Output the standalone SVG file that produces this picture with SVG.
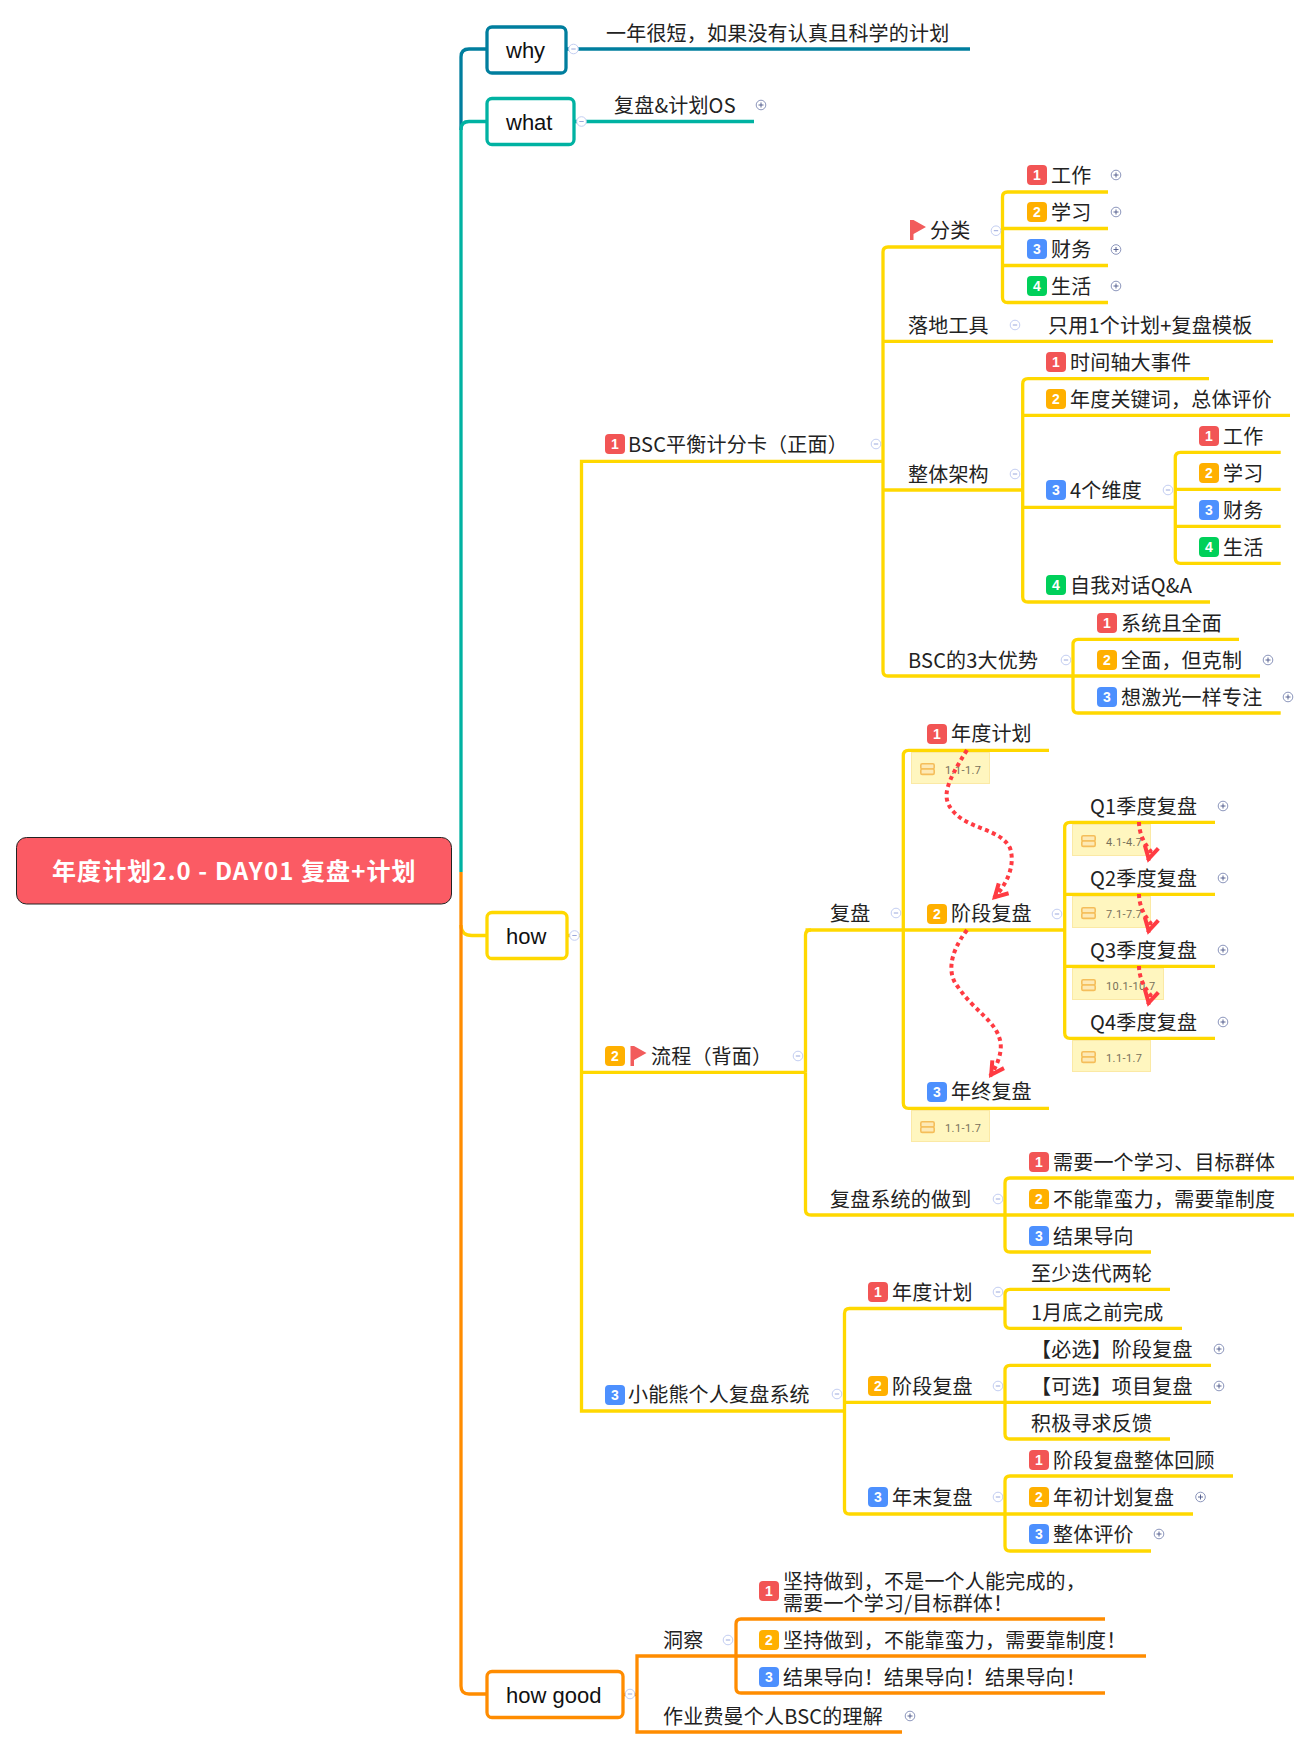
<svg xmlns="http://www.w3.org/2000/svg" width="1312" height="1749" viewBox="0 0 1312 1749">
<style>
text{font-family:"Noto Sans CJK SC","Noto Sans",sans-serif;fill:#222}
.t{font-size:20px;letter-spacing:.2px}
.b{font-family:"Liberation Sans",sans-serif;font-size:22px;fill:#111}
.root{font-size:24px;font-weight:700;fill:#fff;letter-spacing:1.1px}
.mn{font-family:"Liberation Sans",sans-serif;font-size:14px;font-weight:700;fill:#fff;text-anchor:middle}
.nt{font-family:"Roboto",sans-serif;font-size:11px;fill:#77705a;letter-spacing:.4px}
.c{fill:none;stroke-width:3.3}
.y{stroke:#FFD800}.o{stroke:#FF8C00}.tl{stroke:#00B2A2}.bl{stroke:#007E9E}
.box{fill:#fff;stroke-width:3.3}
.m1{fill:#F25555}.m2{fill:#FFB000}.m3{fill:#4D90FE}.m4{fill:#00D05A}
.note{fill:#FFF6BF;stroke:#FBE9A5;stroke-width:1}
.rel{fill:none;stroke:#FF3B42;stroke-width:4;stroke-dasharray:4 3.5}
</style>
<defs>
<g id="minus"><circle r="4.8" fill="#fff" stroke="#C3CEF2" stroke-width="1"/><path d="M-2.2 0H2.2" stroke="#9AA8DC" stroke-width="1"/></g>
<g id="plus"><circle r="4.8" fill="#fff" stroke="#7E89B3" stroke-width=".9"/><path d="M-2.5 0H2.5M0 -2.5V2.500" stroke="#4A5688" stroke-width=".9"/></g>
<g id="flag"><path d="M0 0H3.500V20H0Z M3.500 0L16 7L3.500 14Z" fill="#F25C5C"/></g>
<g id="ni"><rect x="0.800" y="0.800" width="13.400" height="5.200" rx="1.400" fill="#FDE9B5" stroke="#F5BE5A" stroke-width="1.600"/><rect x="0.800" y="6" width="13.400" height="5.400" rx="1.400" fill="#FDE9B5" stroke="#F5BE5A" stroke-width="1.600"/></g>
<marker id="arr" markerUnits="userSpaceOnUse" markerWidth="26" markerHeight="24" viewBox="0 0 26 24" refX="21" refY="12" orient="auto"><path d="M4.500 5L17 12L4.500 19" fill="none" stroke="#FF3B42" stroke-width="4"/></marker>
</defs>
<g id="connectors">
<path class="c bl" d="M461 130V57Q461 49 469 49H486"/>
<path class="c tl" d="M461 872V129.500Q461 121.500 469 121.500H486"/>
<path class="c y" d="M461 925Q461 935.500 472 935.500H486"/>
<path class="c o" d="M461 872V1686Q461 1694 469 1694H486"/>
<path class="c bl" d="M566 49H970"/>
<path class="c tl" d="M574 121.500H754"/>
<path class="c y" d="M567 935.500H581.500"/>
<path class="c y" d="M883 461.300H581.500V1411H845"/>
<path class="c y" d="M581.500 1072.300H805.500"/>
<path class="c y" d="M1073 676H888Q883 676 883 671V252Q883 247 888 247H1002"/>
<path class="c y" d="M883 341.300H1273"/>
<path class="c y" d="M883 490H1022.700"/>
<path class="c y" d="M1108 192H1007.500Q1002.500 192 1002.500 197V297.500Q1002.500 302.500 1007.500 302.500H1108"/>
<path class="c y" d="M1002.500 228.500H1108M1002.500 265.500H1108"/>
<path class="c y" d="M1209 378.700H1028Q1022.700 378.700 1022.700 384V597Q1022.700 602 1028 602H1210"/>
<path class="c y" d="M1022.700 415.300H1290M1022.700 507.300H1175.300"/>
<path class="c y" d="M1280.700 452.300H1180.500Q1175.300 452.300 1175.300 457.500V558Q1175.300 563.300 1180.500 563.300H1280.700"/>
<path class="c y" d="M1175.300 489.300H1280.700M1175.300 526.300H1280.700"/>
<path class="c y" d="M1239 639.300H1078Q1073 639.300 1073 644.500V708Q1073 713 1078 713H1280.700"/>
<path class="c y" d="M1073 676H1260"/>
<path class="c y" d="M1049 750.300H908.500Q903.300 750.300 903.300 755.500V1103Q903.300 1108.300 908.500 1108.300H1049"/>
<path class="c y" d="M805.500 930H1064.700"/>
<path class="c y" d="M1215 822.300H1070Q1064.700 822.300 1064.700 827.500V1033Q1064.700 1038.300 1070 1038.300H1215"/>
<path class="c y" d="M1064.700 894.300H1215M1064.700 966.300H1215"/>
<path class="c y" d="M805.500 1072.300V935Q805.500 930 811 930"/>
<path class="c y" d="M805.500 1072.300V1210Q805.500 1215 811 1215H1005"/>
<path class="c y" d="M1294 1178H1010Q1005 1178 1005 1183V1247Q1005 1252 1010 1252H1151"/>
<path class="c y" d="M1005 1215H1294"/>
<path class="c y" d="M844.500 1411V1313.500Q844.500 1308.500 849.500 1308.500H1005"/>
<path class="c y" d="M844.500 1411V1509Q844.500 1514 849.500 1514H1005"/>
<path class="c y" d="M844.500 1402.300H1005"/>
<path class="c y" d="M1170 1289.300H1010Q1005 1289.300 1005 1294.500V1323Q1005 1328.300 1010 1328.300H1182"/>
<path class="c y" d="M1211 1365.300H1010Q1005 1365.300 1005 1370.500V1434Q1005 1439 1010 1439H1170"/>
<path class="c y" d="M1005 1402.300H1211"/>
<path class="c y" d="M1233 1476H1010Q1005 1476 1005 1481V1546Q1005 1551 1010 1551H1151"/>
<path class="c y" d="M1005 1514H1193"/>
<path class="c o" d="M623 1694.500H637"/>
<path class="c o" d="M736 1656H637V1732H902"/>
<path class="c o" d="M1105 1619H741Q736 1619 736 1624V1688Q736 1693 741 1693H1105"/>
<path class="c o" d="M736 1656H1146"/>
</g>
<g id="root"><rect x="16.500" y="837.500" width="435" height="66.500" rx="10" fill="#FB5B64" stroke="#222" stroke-width="1"/><text class="root" x="52" y="880">年度计划2.0 - DAY01 复盘+计划</text></g>
<g id="why"><rect class="box bl" x="487" y="27" width="79" height="46" rx="5"/><text class="b" x="506" y="58">why</text><use href="#minus" x="573.500" y="49"/></g>
<g id="why-1"><text class="t" x="606" y="41">一年很短，如果没有认真且科学的计划</text></g>
<g id="what"><rect class="box tl" x="487" y="98.500" width="87" height="46" rx="5"/><text class="b" x="506" y="130">what</text><use href="#minus" x="581.500" y="121.500"/></g>
<g id="what-1"><text class="t" x="614" y="113">复盘&amp;计划OS</text><use href="#plus" x="761" y="105"/></g>
<g id="how"><rect class="box y" x="487" y="912.500" width="80" height="46" rx="5"/><text class="b" x="506" y="944">how</text><use href="#minus" x="574.500" y="935.500"/></g>
<g id="howgood"><rect class="box o" x="487" y="1671.500" width="136" height="46" rx="5"/><text class="b" x="506" y="1703">how good</text><use href="#minus" x="630" y="1694"/></g>

<g id="bsc"><rect class="m1" x="605" y="434" width="20" height="20" rx="4"/><text class="mn" x="615" y="449">1</text><text class="t" x="628" y="452">BSC平衡计分卡（正面）</text><use href="#minus" x="876" y="444"/></g>
<g id="fenlei"><use href="#flag" x="910" y="220"/><text class="t" x="930" y="238">分类</text><use href="#minus" x="996" y="230.700"/></g>
<g id="fl1"><rect class="m1" x="1027" y="165" width="20" height="20" rx="4"/><text class="mn" x="1037" y="180">1</text><text class="t" x="1051" y="183">工作</text><use href="#plus" x="1116" y="175"/></g>
<g id="fl2"><rect class="m2" x="1027" y="202" width="20" height="20" rx="4"/><text class="mn" x="1037" y="217">2</text><text class="t" x="1051" y="220">学习</text><use href="#plus" x="1116" y="212"/></g>
<g id="fl3"><rect class="m3" x="1027" y="239" width="20" height="20" rx="4"/><text class="mn" x="1037" y="254">3</text><text class="t" x="1051" y="257">财务</text><use href="#plus" x="1116" y="249.500"/></g>
<g id="fl4"><rect class="m4" x="1027" y="276" width="20" height="20" rx="4"/><text class="mn" x="1037" y="291">4</text><text class="t" x="1051" y="294">生活</text><use href="#plus" x="1116" y="286"/></g>
<g id="luodi"><text class="t" x="908" y="333">落地工具</text><use href="#minus" x="1015" y="325"/></g>
<g id="luodi1"><text class="t" x="1048" y="333">只用1个计划+复盘模板</text></g>
<g id="jiagou"><text class="t" x="908" y="482">整体架构</text><use href="#minus" x="1015" y="474"/></g>
<g id="jg1"><rect class="m1" x="1046" y="352" width="20" height="20" rx="4"/><text class="mn" x="1056" y="367">1</text><text class="t" x="1070" y="370">时间轴大事件</text></g>
<g id="jg2"><rect class="m2" x="1046" y="389" width="20" height="20" rx="4"/><text class="mn" x="1056" y="404">2</text><text class="t" x="1070" y="407">年度关键词，总体评价</text></g>
<g id="jg3"><rect class="m3" x="1046" y="480" width="20" height="20" rx="4"/><text class="mn" x="1056" y="495">3</text><text class="t" x="1070" y="498">4个维度</text><use href="#minus" x="1168" y="490"/></g>
<g id="wd1"><rect class="m1" x="1199" y="426" width="20" height="20" rx="4"/><text class="mn" x="1209" y="441">1</text><text class="t" x="1223" y="444">工作</text></g>
<g id="wd2"><rect class="m2" x="1199" y="463" width="20" height="20" rx="4"/><text class="mn" x="1209" y="478">2</text><text class="t" x="1223" y="481">学习</text></g>
<g id="wd3"><rect class="m3" x="1199" y="500" width="20" height="20" rx="4"/><text class="mn" x="1209" y="515">3</text><text class="t" x="1223" y="518">财务</text></g>
<g id="wd4"><rect class="m4" x="1199" y="537" width="20" height="20" rx="4"/><text class="mn" x="1209" y="552">4</text><text class="t" x="1223" y="555">生活</text></g>
<g id="jg4"><rect class="m4" x="1046" y="575" width="20" height="20" rx="4"/><text class="mn" x="1056" y="590">4</text><text class="t" x="1070" y="593">自我对话Q&amp;A</text></g>
<g id="ys"><text class="t" x="908" y="668">BSC的3大优势</text><use href="#minus" x="1066" y="660"/></g>
<g id="ys1"><rect class="m1" x="1097" y="613" width="20" height="20" rx="4"/><text class="mn" x="1107" y="628">1</text><text class="t" x="1121" y="631">系统且全面</text></g>
<g id="ys2"><rect class="m2" x="1097" y="650" width="20" height="20" rx="4"/><text class="mn" x="1107" y="665">2</text><text class="t" x="1121" y="668">全面，但克制</text><use href="#plus" x="1268" y="660"/></g>
<g id="ys3"><rect class="m3" x="1097" y="687" width="20" height="20" rx="4"/><text class="mn" x="1107" y="702">3</text><text class="t" x="1121" y="705">想激光一样专注</text><use href="#plus" x="1288" y="697"/></g>

<g id="liucheng"><rect class="m2" x="605" y="1046" width="20" height="20" rx="4"/><text class="mn" x="615" y="1061">2</text><use href="#flag" x="630.500" y="1046"/><text class="t" x="651" y="1064">流程（背面）</text><use href="#minus" x="798" y="1056"/></g>
<g id="fupan"><text class="t" x="830" y="921">复盘</text><use href="#minus" x="896" y="913"/></g>
<g id="nd"><rect class="m1" x="927" y="724" width="20" height="20" rx="4"/><text class="mn" x="937" y="739">1</text><text class="t" x="951" y="741">年度计划</text><rect class="note" x="911.500" y="752.500" width="78" height="31"/><use href="#ni" x="920" y="763"/><text class="nt" x="945" y="773.500">1.1-1.7</text></g>
<g id="jd"><rect class="m2" x="927" y="904" width="20" height="20" rx="4"/><text class="mn" x="937" y="919">2</text><text class="t" x="951" y="921">阶段复盘</text><use href="#minus" x="1057" y="914"/></g>
<g id="nz"><rect class="m3" x="927" y="1082" width="20" height="20" rx="4"/><text class="mn" x="937" y="1097">3</text><text class="t" x="951" y="1099">年终复盘</text><rect class="note" x="911.500" y="1110.500" width="78" height="31"/><use href="#ni" x="920" y="1121"/><text class="nt" x="945" y="1131.500">1.1-1.7</text></g>
<g id="q1"><text class="t" x="1090" y="814">Q1季度复盘</text><use href="#plus" x="1223" y="806"/><rect class="note" x="1072.500" y="824.500" width="78" height="31"/><use href="#ni" x="1081" y="835"/><text class="nt" x="1106" y="845.500">4.1-4.7</text></g>
<g id="q2"><text class="t" x="1090" y="886">Q2季度复盘</text><use href="#plus" x="1223" y="878"/><rect class="note" x="1072.500" y="896.500" width="78" height="31"/><use href="#ni" x="1081" y="907"/><text class="nt" x="1106" y="917.500">7.1-7.7</text></g>
<g id="q3"><text class="t" x="1090" y="958">Q3季度复盘</text><use href="#plus" x="1223" y="950"/><rect class="note" x="1072.500" y="968.500" width="91" height="31"/><use href="#ni" x="1081" y="979"/><text class="nt" x="1106" y="989.500">10.1-10.7</text></g>
<g id="q4"><text class="t" x="1090" y="1030">Q4季度复盘</text><use href="#plus" x="1223" y="1022"/><rect class="note" x="1072.500" y="1040.500" width="78" height="31"/><use href="#ni" x="1081" y="1051"/><text class="nt" x="1106" y="1061.500">1.1-1.7</text></g>
<g id="xt"><text class="t" x="830" y="1207">复盘系统的做到</text><use href="#minus" x="998" y="1199"/></g>
<g id="xt1"><rect class="m1" x="1029" y="1152" width="20" height="20" rx="4"/><text class="mn" x="1039" y="1167">1</text><text class="t" x="1053" y="1170">需要一个学习、目标群体</text></g>
<g id="xt2"><rect class="m2" x="1029" y="1189" width="20" height="20" rx="4"/><text class="mn" x="1039" y="1204">2</text><text class="t" x="1053" y="1207">不能靠蛮力，需要靠制度</text></g>
<g id="xt3"><rect class="m3" x="1029" y="1226" width="20" height="20" rx="4"/><text class="mn" x="1039" y="1241">3</text><text class="t" x="1053" y="1244">结果导向</text></g>

<g id="xnx"><rect class="m3" x="605" y="1385" width="20" height="20" rx="4"/><text class="mn" x="615" y="1400">3</text><text class="t" x="628" y="1402">小能熊个人复盘系统</text><use href="#minus" x="837" y="1394"/></g>
<g id="a1"><rect class="m1" x="868" y="1282" width="20" height="20" rx="4"/><text class="mn" x="878" y="1297">1</text><text class="t" x="892" y="1300">年度计划</text><use href="#minus" x="998" y="1292"/></g>
<g id="a11"><text class="t" x="1031" y="1281">至少迭代两轮</text></g>
<g id="a12"><text class="t" x="1031" y="1320">1月底之前完成</text></g>
<g id="a2"><rect class="m2" x="868" y="1376" width="20" height="20" rx="4"/><text class="mn" x="878" y="1391">2</text><text class="t" x="892" y="1394">阶段复盘</text><use href="#minus" x="998" y="1386"/></g>
<g id="a21"><text class="t" x="1031" y="1357">【必选】阶段复盘</text><use href="#plus" x="1219" y="1349"/></g>
<g id="a22"><text class="t" x="1031" y="1394">【可选】项目复盘</text><use href="#plus" x="1219" y="1386"/></g>
<g id="a23"><text class="t" x="1031" y="1431">积极寻求反馈</text></g>
<g id="a3"><rect class="m3" x="868" y="1487" width="20" height="20" rx="4"/><text class="mn" x="878" y="1502">3</text><text class="t" x="892" y="1505">年末复盘</text><use href="#minus" x="998" y="1497"/></g>
<g id="a31"><rect class="m1" x="1029" y="1450" width="20" height="20" rx="4"/><text class="mn" x="1039" y="1465">1</text><text class="t" x="1053" y="1468">阶段复盘整体回顾</text></g>
<g id="a32"><rect class="m2" x="1029" y="1487" width="20" height="20" rx="4"/><text class="mn" x="1039" y="1502">2</text><text class="t" x="1053" y="1505">年初计划复盘</text><use href="#plus" x="1200.500" y="1497"/></g>
<g id="a33"><rect class="m3" x="1029" y="1524" width="20" height="20" rx="4"/><text class="mn" x="1039" y="1539">3</text><text class="t" x="1053" y="1542">整体评价</text><use href="#plus" x="1159" y="1534"/></g>

<g id="dc"><text class="t" x="663" y="1648">洞察</text><use href="#minus" x="728" y="1640"/></g>
<g id="dc1"><rect class="m1" x="759" y="1581" width="20" height="20" rx="4"/><text class="mn" x="769" y="1596">1</text><text class="t"><tspan x="783" y="1589">坚持做到，不是一个人能完成的，</tspan><tspan x="783" y="1611">需要一个学习/目标群体！</tspan></text></g>
<g id="dc2"><rect class="m2" x="759" y="1630" width="20" height="20" rx="4"/><text class="mn" x="769" y="1645">2</text><text class="t" x="783" y="1648">坚持做到，不能靠蛮力，需要靠制度！</text></g>
<g id="dc3"><rect class="m3" x="759" y="1667" width="20" height="20" rx="4"/><text class="mn" x="769" y="1682">3</text><text class="t" x="783" y="1685">结果导向！结果导向！结果导向！</text></g>
<g id="zy"><text class="t" x="663" y="1724">作业费曼个人BSC的理解</text><use href="#plus" x="910" y="1716"/></g>

<g id="relations">
<path class="rel" marker-end="url(#arr)" d="M967 750C945 785 942 797 952 810C968 830 1000 828 1010 848C1016 866 1006 886 992 900"/>
<path class="rel" marker-end="url(#arr)" d="M967 930C948 955 948 975 958 987C975 1012 995 1020 1000 1040C1003 1052 997 1066 989 1078"/>
<path class="rel" marker-end="url(#arr)" d="M1139 822C1139 832 1143 842 1150.500 851L1147.700 862.700"/>
<path class="rel" marker-end="url(#arr)" d="M1139 894C1139 904 1143 914 1150.500 923L1147.700 934.700"/>
<path class="rel" marker-end="url(#arr)" d="M1139 966C1139 976 1143 986 1150.500 995L1147.700 1006.700"/>
</g>
</svg>
